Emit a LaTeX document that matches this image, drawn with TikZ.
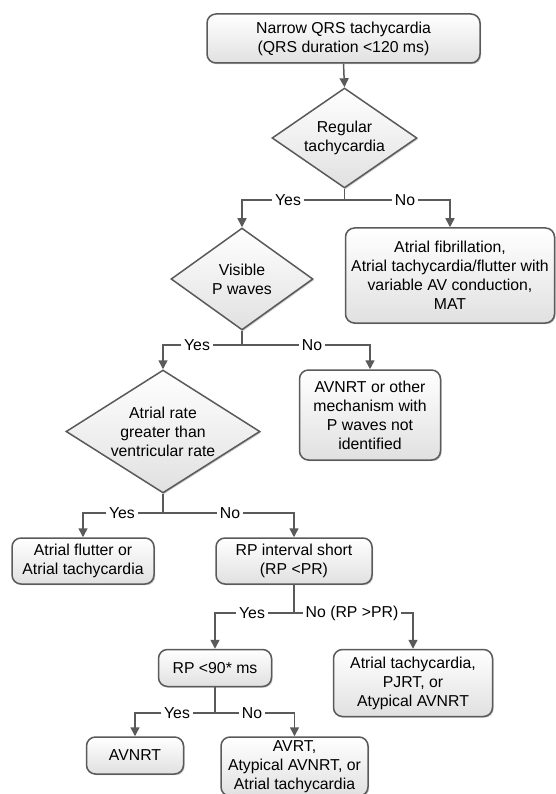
\documentclass[tikz,border=0pt]{standalone}
\usepackage{fontspec}
\setmainfont{Liberation Sans}
\usetikzlibrary{shapes.geometric,arrows.meta,shadows}
\definecolor{lc}{HTML}{5A5A5A}
\newcommand{\myfs}{\fontsize{15.8}{19}\selectfont}
\begin{document}
\begin{tikzpicture}[x=1pt,y=-1pt,
  shade/.style={top color=white, bottom color=black!12},
  shd/.style={drop shadow={shadow xshift=1.2pt,shadow yshift=-1.2pt,fill=black,opacity=0.22}},
  box/.style={draw=lc, line width=1.5pt, rounded corners=9pt, shade, shd, align=center, font=\myfs, inner sep=2pt},
  dia/.style={draw=lc, line width=1.5pt, shape=diamond, shade, shd, align=center, inner sep=0pt, font=\myfs},
  conn/.style={draw=lc, line width=1.5pt},
  arr/.style={conn, -{Triangle[length=9pt,width=9pt]}},
  lbl/.style={fill=white, inner xsep=3pt, inner ysep=1pt, font=\myfs}]
\useasboundingbox (0,0) rectangle (555,794);
\fill[white] (0,0) rectangle (555,794);

% nodes
\node[box, minimum width=273pt, minimum height=49pt] (top) at (343.5,38.5) {Narrow QRS tachycardia\\(QRS duration <120 ms)};
\node[dia, shape aspect=1.45, minimum width=145pt, minimum height=100pt] (d1) at (344.5,138) {Regular\\tachycardia};
\node[box, minimum width=209pt, minimum height=95pt] (box1) at (450,275.5) {Atrial fibrillation,\\Atrial tachycardia/flutter with\\variable AV conduction,\\MAT};
\node[dia, shape aspect=1.39, minimum width=142pt, minimum height=102pt] (d2) at (242,279) {Visible\\P waves};
\node[box, minimum width=141pt, minimum height=90pt] (box2) at (370,415) {AVNRT or other\\mechanism with\\P waves not\\identified};
\node[dia, shape aspect=1.58, minimum width=194pt, minimum height=123pt] (d3) at (163,431.5) {Atrial rate\\greater than\\ventricular rate};
\node[box, minimum width=142pt, minimum height=46pt] (flutter) at (83,561) {Atrial flutter or\\Atrial tachycardia};
\node[box, minimum width=156pt, minimum height=46pt] (rpint) at (294,561) {RP interval short\\(RP <PR)};
\node[box, minimum width=113pt, minimum height=37pt] (rp90) at (215,668) {RP <90* ms};
\node[box, minimum width=159pt, minimum height=67pt] (box3) at (413,683) {Atrial tachycardia,\\PJRT, or\\Atypical AVNRT};
\node[box, minimum width=97pt, minimum height=37pt] (avnrt) at (135,755.5) {AVNRT};
\node[box, minimum width=147pt, minimum height=59pt] (avrt) at (294.5,766.5) {AVRT,\\Atypical AVNRT, or\\Atrial tachycardia};

% junctions
\coordinate (j1) at (344.5,200);
\coordinate (j2) at (242,345);
\coordinate (j3) at (163,513);
\coordinate (j4) at (294,613);
\coordinate (j5) at (215,713);

% connectors
\draw[arr] (top.south) -- (d1.north);
\draw[conn] (d1.south) -- (j1);
\draw[arr] (j1) -| (d2.north);
\draw[arr] (j1) -| (box1.north);
\draw[conn] (d2.south) -- (j2);
\draw[arr] (j2) -| (d3.north);
\draw[arr] (j2) -| (box2.north);
\draw[conn] (d3.south) -- (j3);
\draw[arr] (j3) -| (flutter.north);
\draw[arr] (j3) -| (rpint.north);
\draw[conn] (rpint.south) -- (j4);
\draw[arr] (j4) -| (rp90.north);
\draw[arr] (j4) -| (box3.north);
\draw[conn] (rp90.south) -- (j5);
\draw[arr] (j5) -| (avnrt.north);
\draw[arr] (j5) -| (avrt.north);

% labels
\node[lbl] (y1) at (288,200) {Yes};
\node[lbl] (n1) at (405,200) {No};
\node[lbl] (y2) at (197,345) {Yes};
\node[lbl] (n2) at (312,345) {No};
\node[lbl] (y3) at (122,513) {Yes};
\node[lbl] (n3) at (230,513) {No};
\node[lbl] (y4) at (252,613) {Yes};
\node[lbl] (n4) at (352,613) {No (RP >PR)};
\node[lbl] (y5) at (177,713) {Yes};
\node[lbl] (n5) at (252,713) {No};
\end{tikzpicture}
\end{document}
